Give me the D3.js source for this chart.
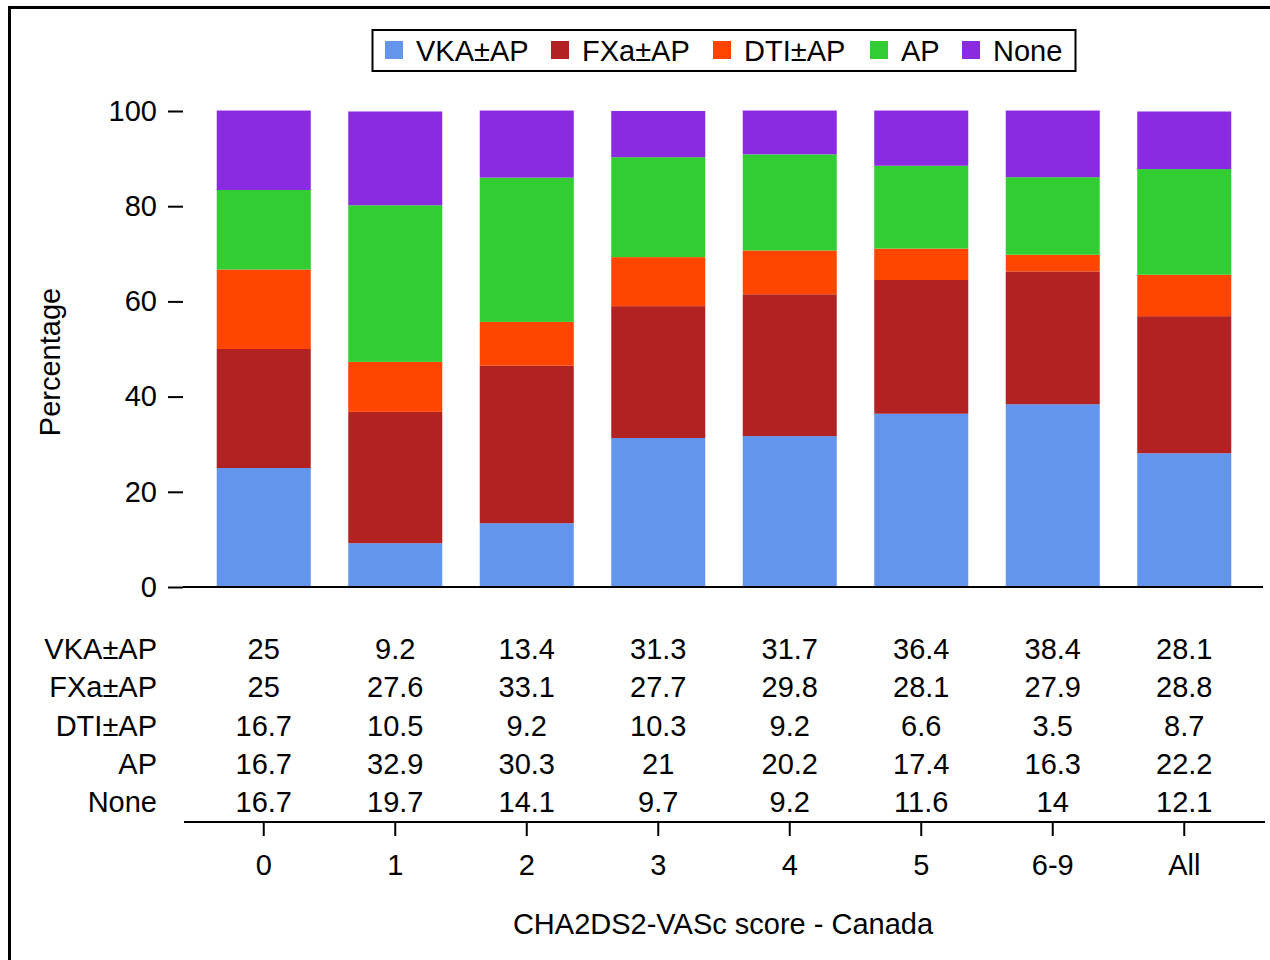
<!DOCTYPE html>
<html>
<head>
<meta charset="utf-8">
<script src="https://cdn.jsdelivr.net/npm/d3@7"></script>
<style>
  body { margin: 0; background: #fff; }
  text { font-family: "Liberation Sans", Arial, sans-serif; fill: #000; }
</style>
</head>
<body>
<script>
// data
var categories = ["0", "1", "2", "3", "4", "5", "6-9", "All"];
var series = ["VKA±AP", "FXa±AP", "DTI±AP", "AP", "None"];
var colors = ["#6495ED", "#B22222", "#FF4500", "#32CD32", "#8A2BE2"];
var vka  = [25, 9.2, 13.4, 31.3, 31.7, 36.4, 38.4, 28.1];
var fxa  = [25, 27.6, 33.1, 27.7, 29.8, 28.1, 27.9, 28.8];
var dti  = [16.7, 10.5, 9.2, 10.3, 9.2, 6.6, 3.5, 8.7];
var ap   = [16.7, 32.9, 30.3, 21, 20.2, 17.4, 16.3, 22.2];
var none = [16.7, 19.7, 14.1, 9.7, 9.2, 11.6, 14, 12.1];
var yTicks = [0, 20, 40, 60, 80, 100];
var values = [vka, fxa, dti, ap, none];

var rows = categories.map(function(c, i) {
  var r = {cat: c};
  series.forEach(function(s, j) { r[s] = values[j][i]; });
  return r;
});

var W = 1270, H = 960, fs = 29;
var svg = d3.select("body").append("svg")
  .attr("width", W).attr("height", H);

// outer frame
svg.append("rect").attr("x", 9.5).attr("y", 7.5)
  .attr("width", 1300).attr("height", 1000)
  .attr("fill", "none").attr("stroke", "#000").attr("stroke-width", 3);

var x = d3.scaleBand().domain(categories).range([198, 1250]).paddingInner(0.285).paddingOuter(0.1425);
var y = d3.scaleLinear().domain([0, 100]).range([587, 111]);

var stack = d3.stack().keys(series)(rows);

svg.append("g").selectAll("g").data(stack).join("g")
  .attr("fill", function(d, i) { return colors[i]; })
  .selectAll("rect").data(function(d) { return d; }).join("rect")
  .attr("x", function(d) { return x(d.data.cat); })
  .attr("width", x.bandwidth())
  .attr("y", function(d) { return y(d[1]); })
  .attr("height", function(d) { return y(d[0]) - y(d[1]); });

// y axis
var yAxis = svg.append("g").attr("transform", "translate(183,0)")
  .call(d3.axisLeft(y).tickValues(yTicks).tickSize(15).tickPadding(11));
yAxis.select(".domain").remove();
yAxis.selectAll("line").attr("stroke", "#000").attr("stroke-width", 2);
yAxis.selectAll("text").style("font-size", fs + "px").style("font-family", "Liberation Sans, Arial, sans-serif");

// baseline
svg.append("line").attr("x1", 183).attr("x2", 1263).attr("y1", y(0)).attr("y2", y(0))
  .attr("stroke", "#000").attr("stroke-width", 2);

svg.append("text").attr("transform", "translate(60,362) rotate(-90)")
  .attr("text-anchor", "middle").style("font-size", fs + "px").text("Percentage");

// table of values
var rowY = d3.scalePoint().domain(series).range([649, 802]);
var table = svg.append("g");
series.forEach(function(s, j) {
  table.append("text").attr("x", 157).attr("y", rowY(s)).attr("dy", "0.35em")
    .attr("text-anchor", "end").style("font-size", fs + "px").text(s);
  categories.forEach(function(c, i) {
    table.append("text").attr("x", x(c) + x.bandwidth() / 2).attr("y", rowY(s)).attr("dy", "0.35em")
      .attr("text-anchor", "middle").style("font-size", fs + "px").text(values[j][i]);
  });
});

// x axis
var xAxis = svg.append("g").attr("transform", "translate(0,822)")
  .call(d3.axisBottom(x).tickSize(14).tickPadding(18).tickSizeOuter(0));
xAxis.select(".domain").attr("d", "M184,0H1265").attr("stroke", "#000").attr("stroke-width", 2);
xAxis.selectAll("line").attr("stroke", "#000").attr("stroke-width", 2);
xAxis.selectAll("text").style("font-size", fs + "px").style("font-family", "Liberation Sans, Arial, sans-serif");

svg.append("text").attr("x", 723).attr("y", 924).attr("dy", "0.35em")
  .attr("text-anchor", "middle").style("font-size", fs + "px").text("CHA2DS2-VASc score - Canada");

// legend
var legend = svg.append("g");
legend.append("rect").attr("x", 372.5).attr("y", 30).attr("width", 703).attr("height", 41)
  .attr("fill", "#fff").attr("stroke", "#000").attr("stroke-width", 2);
var legX = [385, 551, 713, 870, 962];
series.forEach(function(s, i) {
  legend.append("rect").attr("x", legX[i]).attr("y", 41).attr("width", 18).attr("height", 18)
    .attr("fill", colors[i]);
  legend.append("text").attr("x", legX[i] + 31).attr("y", 51).attr("dy", "0.35em")
    .style("font-size", fs + "px").text(s);
});
</script>
</body>
</html>
